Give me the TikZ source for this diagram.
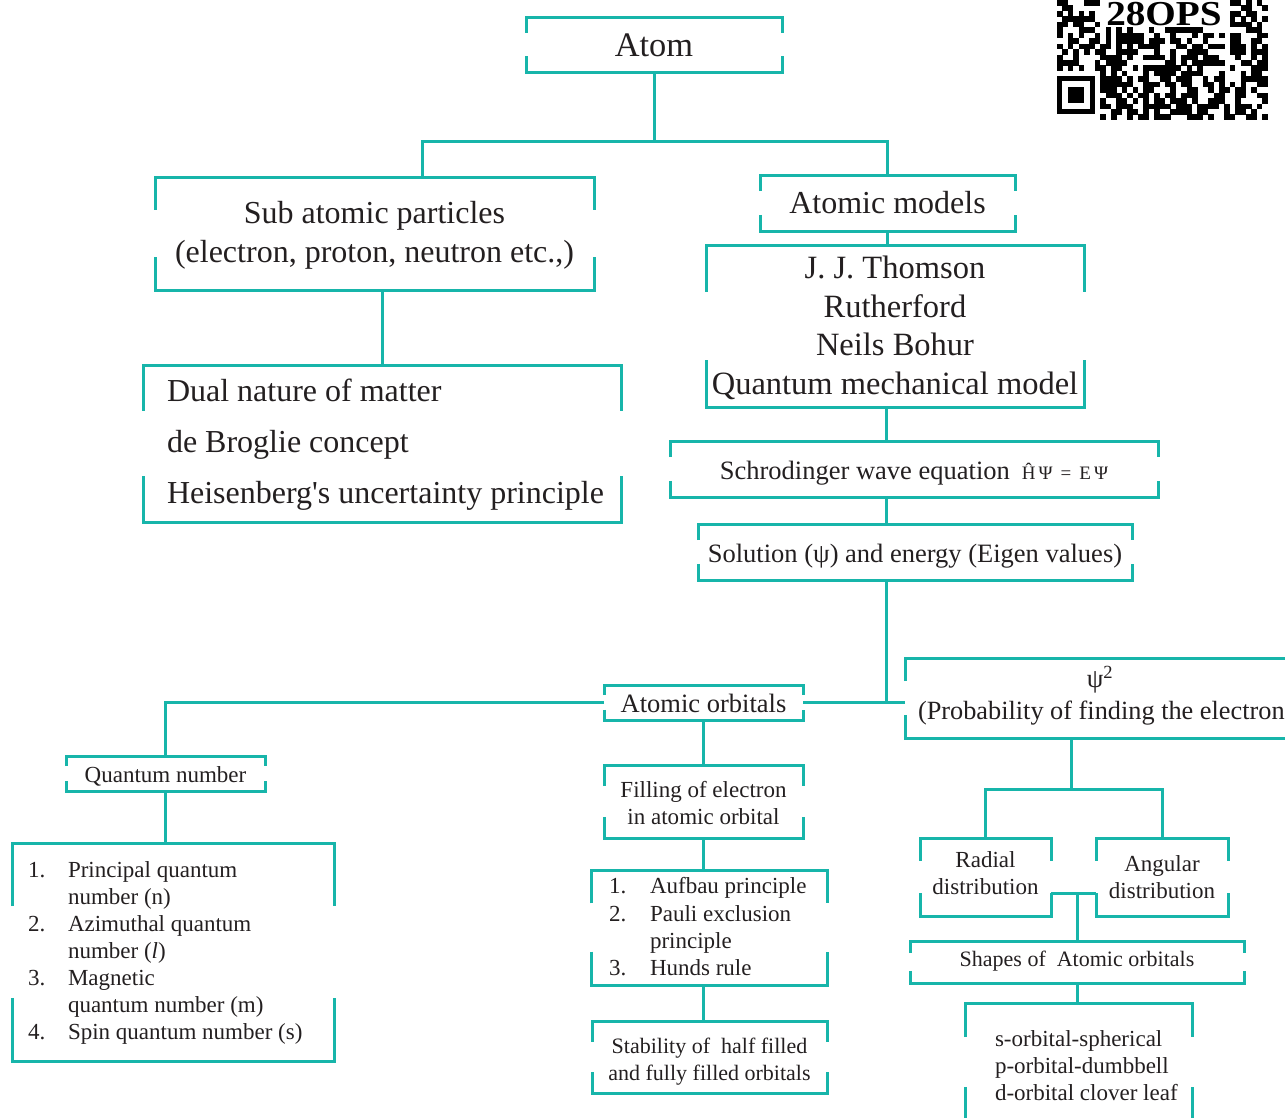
\documentclass[tikz,border=0pt]{standalone}
\usepackage{fontspec}
\setmainfont{Liberation Serif}
\usetikzlibrary{calc}
\definecolor{tl}{HTML}{17B5AA}
\definecolor{tx}{HTML}{231F20}
\newcommand\fA{\fontsize{34.4}{40}\selectfont}
\newcommand\fB{\fontsize{32}{39}\selectfont}
\newcommand\fBt{\fontsize{32.5}{38.5}\selectfont}
\newcommand\fDu{\fontsize{32}{36}\selectfont}
\newcommand\fC{\fontsize{26.5}{30}\selectfont}
\newcommand\fD{\fontsize{23}{27}\selectfont}
\newcommand\fDs{\fontsize{22}{27}\selectfont}
\tikzset{
  ln/.style={draw=tl, line width=3pt},
  bx/.style={inner sep=0pt, outer sep=0pt, text=tx, align=center},
  tt/.style={inner sep=0pt, outer sep=0pt, text=tx, anchor=west, text height=1em, text depth=0.05em},
}
\newcommand\brak[1]{%
  \draw[ln] ($(#1.north west)!0.29!(#1.south west)$) -- (#1.north west) -- (#1.north east) -- ($(#1.north east)!0.29!(#1.south east)$);
  \draw[ln] ($(#1.south west)!0.29!(#1.north west)$) -- (#1.south west) -- (#1.south east) -- ($(#1.south east)!0.29!(#1.north east)$);}
% name, x1, y1, x2, y2, text options, text y offset, text
\newcommand\mkbox[8]{%
  \node[bx, minimum width={(#4-#2)*1pt}, minimum height={(#5-#3)*1pt}] (#1) at ({(#2+#4)/2},{(#3+#5)/2}) {};
  \node[bx, #6] (#1-t) at ({(#2+#4)/2},{(#3+#5)/2+#7}) {#8};
  \brak{#1}}
\newcommand\mkframe[5]{%
  \node[bx, minimum width={(#4-#2)*1pt}, minimum height={(#5-#3)*1pt}] (#1) at ({(#2+#4)/2},{(#3+#5)/2}) {};
  \brak{#1}}
\begin{document}
\begin{tikzpicture}[x=1pt,y=-1pt]
\useasboundingbox (0,0) rectangle (1285,1117);
\clip (0,0) rectangle (1285,1117);
% boxes
\mkbox{atom}{526}{17}{782}{72}{font=\fA}{1}{Atom}
\mkbox{sub}{155}{177}{594}{290}{font=\fB}{2}{Sub atomic particles\\(electron, proton, neutron etc.,)}
\mkbox{models}{760}{175}{1015}{231}{font=\fB}{0}{Atomic models}
\mkbox{thom}{706}{245}{1084}{407}{font=\fBt}{2}{J. J. Thomson\\Rutherford\\Neils Bohur\\Quantum mechanical model}
\mkframe{dual}{143}{365}{621}{522}
\mkbox{schrod}{670}{441}{1158}{497}{font=\fC}{4}{Schrodinger wave equation\hspace{12pt}{\fontsize{19}{22}\selectfont Ĥ\,Ψ\, =\, E\,Ψ}}
\mkbox{sol}{698}{524}{1132}{580}{font=\fC}{4}{Solution (ψ) and energy (Eigen values)}
\mkbox{orb}{604}{685}{803}{720}{font=\fC}{1}{Atomic orbitals}
\mkframe{psi}{905}{658}{1310}{738}
\mkbox{qn}{66}{756}{265}{791}{font=\fD}{3}{Quantum number}
\mkframe{qnl}{12}{843}{334}{1061}
\mkbox{fill}{604}{765}{803}{838}{font=\fD}{2}{Filling of electron\\in atomic orbital}
\mkframe{auf}{591}{870}{827}{985}
\mkbox{stab}{592}{1021}{827}{1093}{font=\fDs}{5}{Stability of\ \ half filled\\and fully filled orbitals}
\mkbox{rad}{920}{838}{1051}{916}{font=\fD}{-4}{Radial\\distribution}
\mkbox{ang}{1096}{838}{1228}{916}{font=\fD}{0}{Angular\\distribution}
\mkbox{shp}{910}{941}{1244}{983}{font=\fDs}{-1}{Shapes of\ \ Atomic orbitals}
\mkframe{orbs}{965}{1003}{1192}{1121}
% texts placed inside frames
\node[tt, font=\fDu] (d1) at (167,397) {Dual nature of matter};
\node[tt, font=\fDu] (d2) at (167,448) {de Broglie concept};
\node[tt, font=\fDu] (d3) at (167,499) {Heisenberg\textquotesingle s uncertainty principle};
\node[bx, font=\fC] (p1) at (1100,680) {ψ\textsuperscript{2}};
\node[tt, font=\fontsize{26.3}{30}\selectfont] (p2) at (918,715) {(Probability of finding the electron};
\foreach \y/\n/\t [count=\k] in {873/1./Principal quantum, 900/{}/number (n), 927/2./Azimuthal quantum, 954/{}/number (\textit{l}), 981/3./Magnetic, 1008/{}/quantum number (m), 1035/4./Spin quantum number (s)}{
  \node[tt, font=\fD] (qa\k) at (28,\y) {\n};
  \node[tt, font=\fD] (qb\k) at (68,\y) {\t};
}
\foreach \y/\n/\t [count=\k] in {889/1./Aufbau principle, 917/2./Pauli exclusion, 944/{}/principle, 971/3./Hunds rule}{
  \node[tt, font=\fD] (aa\k) at (609,\y) {\n};
  \node[tt, font=\fD] (ab\k) at (650,\y) {\t};
}
\foreach \y/\t [count=\k] in {1042/s-orbital-spherical, 1069/p-orbital-dumbbell, 1096/d-orbital clover leaf}{
  \node[tt, font=\fD] (ob\k) at (995,\y) {\t};
}
% connectors
\coordinate (f1) at (654,141);
\coordinate (sd) at (422,0);
\coordinate (spine) at (886,0);
\coordinate (pf) at (1071,789);
\draw[ln] (atom.south) -- (f1);
\draw[ln] (sub.north -| sd) |- (f1) -| (models.north);
\draw[ln] (models.south) -- (models.south |- thom.north);
\draw[ln] (dual.north |- sub.south) -- (dual.north);
\draw[ln] (spine |- thom.south) -- (spine |- schrod.north);
\draw[ln] (spine |- schrod.south) -- (spine |- sol.north);
\draw[ln] (spine |- sol.south) -- (spine |- orb.east);
\draw[ln] (orb.east) -- (orb.east -| psi.west);
\draw[ln] (orb.west) -| (qn.north);
\draw[ln] (qn.south) -- (qn.south |- qnl.north);
\draw[ln] (orb.south) -- (fill.north);
\draw[ln] (fill.south) -- (fill.south |- auf.north);
\draw[ln] (fill.south |- auf.south) -- (fill.south |- stab.north);
\draw[ln] (pf |- psi.south) -- (pf);
\draw[ln] (rad.north) |- (pf) -| (ang.north);
\coordinate (rl) at ($(rad.south east)!0.29!(rad.north east)$);
\coordinate (al) at ($(ang.south west)!0.29!(ang.north west)$);
\draw[ln] (rl) -- (al);
\draw[ln] (shp.north |- rl) -- (shp.north);
\draw[ln] (shp.south) -- (shp.south |- orbs.north);
% QR code
\pgfmathsetseed{2807}
\foreach \i in {0,...,38}{\foreach \j in {0,...,21}{
  \pgfmathparse{ifthenelse((rnd<0.56)&&!((\j<5)&&(\i>=8)&&(\i<=31))&&!((\i<=7)&&(\j>=13)),1,0)}
  \ifdim\pgfmathresult pt>0.5pt
    \fill (1057+\i*5.4,\j*5.45) rectangle ++(5.6,5.6);
  \fi
}}
\fill (1057,76) rectangle (1095,114);
\fill[white] (1062.4,81.4) rectangle (1089.6,108.6);
\fill (1067.8,86.8) rectangle (1084.2,103.2);
\node[inner sep=0pt, anchor=north, xscale=1.12, font=\bfseries\fontsize{35}{35}\selectfont] (qrt) at (1164,2) {28OPS};
\end{tikzpicture}
\end{document}
